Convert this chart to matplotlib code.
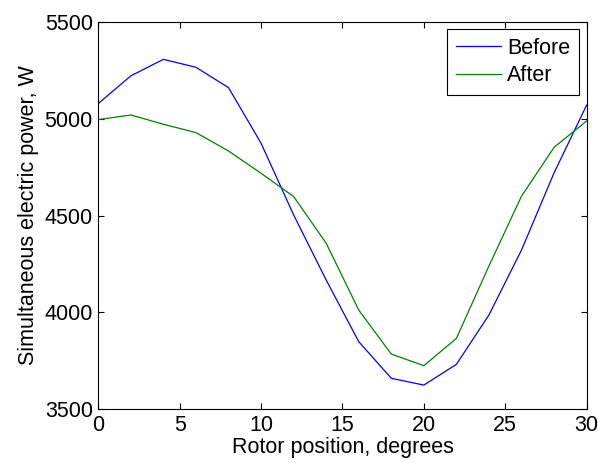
import matplotlib
matplotlib.use("Agg")
import matplotlib.pyplot as plt

# rotor position, degrees
angle = [0, 2, 4, 6, 8, 10, 12, 14, 16, 18, 20, 22, 24, 26, 28, 30]

# simultaneous electric power, W
before = [5078, 5221, 5306, 5265, 5160, 4873, 4503, 4167, 3849, 3660, 3625,
          3732, 3987, 4322, 4720, 5070]
after = [4995, 5019, 4971, 4928, 4833, 4718, 4598, 4357, 4012, 3785, 3725,
         3866, 4240, 4600, 4852, 4988]

plt.rcParams['font.family'] = ['Liberation Sans', 'DejaVu Sans']

fig = plt.figure(figsize=(5.98, 4.63), dpi=100)
ax = fig.add_axes([0.1644, 0.116, 0.8166, 0.837])

ax.plot(angle, before, color=(0, 0, 1), lw=0.9, label='Before')
ax.plot(angle, after, color=(0, 0.5, 0), lw=0.9, label='After')

ax.set_xlim(0, 30)
ax.set_ylim(3500, 5500)
ax.set_xticks([0, 5, 10, 15, 20, 25, 30])
ax.set_yticks([3500, 4000, 4500, 5000, 5500])
ax.tick_params(direction='in', top=True, right=True, labelsize=15.5,
               length=4, width=0.8, pad=4)
for s in ax.spines.values():
    s.set_linewidth(0.8)

ax.set_xlabel('Rotor position, degrees', fontsize=15.5, labelpad=1)
ax.set_ylabel('Simultaneous electric power, W', fontsize=15.5, labelpad=4)

leg = ax.legend(loc='upper right', fontsize=15.5, fancybox=False,
                edgecolor='black', framealpha=1, borderpad=0.4,
                handlelength=2.1, labelspacing=0.3, handletextpad=0.3,
                borderaxespad=0.35)
leg.get_frame().set_linewidth(0.8)

fig.savefig('out.png', dpi=100)
